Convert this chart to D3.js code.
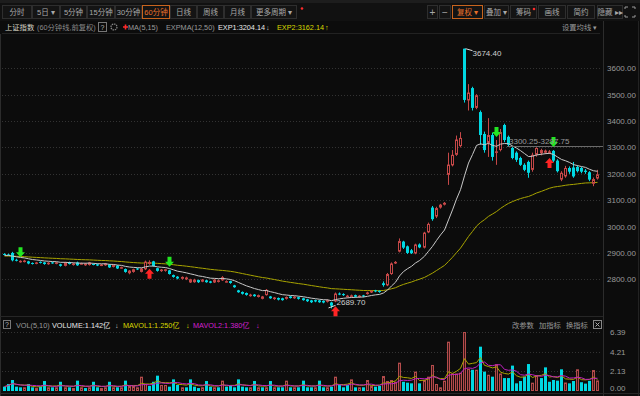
<!DOCTYPE html>
<html>
<head>
<meta charset="utf-8">
<script src="https://cdn.jsdelivr.net/npm/d3@7/dist/d3.min.js"></script>
<style>
html, body { margin: 0; padding: 0; background: #0c0c0c; }
svg { display: block; font-family: "Liberation Sans", "Noto Sans CJK SC", sans-serif; }
</style>
</head>
<body>
<script>
// 60-minute bars, SSE index
var opens = [2896,2894,2900,2874,2866,2866,2868,2862,2859,2866,
  2864,2857,2864,2859,2857,2851,2865,2854,2864,2858,
  2853,2854,2858,2857,2852,2853,2856,2847,2852,2843,
  2839,2823,2828,2841,2828,2838,2858,2868,2842,2831,
  2832,2834,2816,2810,2802,2800,2788,2789,2797,2791,
  2796,2792,2788,2790,2796,2790,2793,2777,2758,2752,
  2748,2736,2742,2733,2726,2740,2735,2725,2729,2728,
  2726,2735,2728,2732,2728,2724,2720,2721,2720,2718,
  2715,2712,2716,2746,2744,2733,2734,2740,2733,2739,
  2744,2750,2758,2756,2785,2777,2820,2860,2905,2943,
  2925,2910,2898,2932,2920,2978,3072,3038,3072,3083,
  3196,3232,3272,3305,3674.4,3478,3525,3450,3434,3351,
  3317,3347,3280,3290,3385,3340,3298,3280,3260,3234,
  3245,3215,3272,3278,3280,3282,3287,3250,3178,3190,
  3222,3224,3226,3222,3212,3206,3162,3182];
var highs = [2899,2897,2904,2878,2872,2874,2870,2864,2866,2868,
  2866,2865,2866,2866,2859,2866,2867,2862,2867,2863,
  2862,2866,2860,2859,2858,2862,2858,2856,2854,2848,
  2841,2835,2840,2843,2843,2871,2872,2870,2844,2839,
  2840,2836,2818,2812,2811,2810,2802,2802,2799,2801,
  2798,2794,2801,2799,2812,2796,2795,2779,2760,2754,
  2750,2745,2744,2742,2737,2763,2737,2733,2731,2730,
  2735,2737,2736,2734,2730,2726,2722,2723,2722,2720,
  2724,2714,2750,2750,2747,2741,2742,2742,2740,2741,
  2753,2759,2760,2758,2792,2824,2864,2869,2955,2946,
  2928,2915,2935,2936,2980,3015,3078,3075,3086,3093,
  3280,3290,3345,3358,3674.4,3540,3530,3502,3440,3360,
  3411,3355,3328,3370,3390,3345,3302,3285,3265,3240,
  3250,3280,3300.25,3295,3292,3290,3290,3255,3210,3230,
  3228,3245,3232,3226,3218,3210,3186,3215];
var lows = [2892,2890,2868,2868,2863,2864,2857,2856,2857,2860,
  2855,2855,2859,2857,2848,2849,2856,2852,2851,2856,
  2851,2852,2853,2850,2850,2851,2843,2845,2839,2841,
  2825,2819,2825,2835,2826,2835,2855,2848,2829,2828,
  2829,2818,2806,2800,2799,2797,2786,2787,2786,2789,
  2787,2785,2786,2788,2794,2788,2783,2768,2749,2742,
  2738,2734,2734,2731,2724,2738,2726,2722,2720,2719,
  2723,2727,2726,2723,2719,2714,2710,2713,2711,2709,
  2712,2689.7,2713,2740,2737,2731,2732,2731,2730,2732,
  2742,2748,2751,2749,2772,2774,2817,2858,2902,2915,
  2896,2896,2895,2918,2917,2975,3022,3032,3068,3080,
  3158,3228,3268,3300,3470,3440,3440,3445,3310,3280,
  3264,3250,3234,3285,3320,3305,3255,3245,3230,3210,
  3185,3208,3265,3270,3275,3275,3245,3205,3172,3185,
  3200,3185,3205,3202,3200,3172,3153,3178];
var closes = [2893,2892,2872,2871,2870,2871,2860,2859,2864,2862,
  2858,2863,2861,2864,2851,2864,2858,2860,2853,2861,
  2860,2864,2855,2852,2856,2860,2845,2854,2841,2846,
  2828,2833,2838,2838,2841,2867,2866,2850,2832,2837,
  2838,2820,2809,2803,2809,2807,2800,2799,2789,2799,
  2789,2787,2799,2796,2808,2793,2786,2770,2751,2745,
  2741,2742,2736,2740,2735,2760,2728,2731,2723,2721,
  2733,2729,2734,2726,2721,2717,2713,2716,2713,2712,
  2721,2700,2746,2742,2740,2738,2739,2734,2738,2735,
  2750,2756,2754,2752,2778,2820,2860,2866,2945,2920,
  2900,2899,2932,2921,2977,3010,3028,3070,3083,3090,
  3235,3272,3330,3336,3480,3508,3450,3498,3347,3290,
  3347,3264,3285,3358,3328,3310,3260,3253,3234,3215,
  3204,3272,3298,3290,3288,3285,3250,3210,3204,3222,
  3208,3190,3210,3208,3207,3178,3180,3198];
// volume, 亿
var volumes = [0.47,0.76,1.19,0.47,0.40,0.40,0.76,0.40,0.32,0.47,
  1.08,0.40,0.40,0.40,1.00,0.40,0.40,0.32,1.12,0.40,
  0.32,0.40,1.00,0.40,0.32,0.40,1.00,0.40,0.40,0.40,
  1.12,0.54,0.54,0.40,1.55,0.76,0.54,1.00,1.66,0.65,
  0.65,0.47,1.26,0.65,0.40,0.40,1.26,0.47,0.32,0.40,
  1.08,0.47,0.40,0.40,1.12,0.47,0.65,0.40,1.26,0.47,
  0.40,0.40,1.08,0.40,0.40,0.40,1.08,0.40,0.40,0.40,
  1.12,0.40,0.40,0.40,1.12,0.40,0.40,0.40,1.12,0.40,
  0.40,0.47,1.55,0.65,0.40,0.65,1.26,0.40,0.40,0.40,
  1.19,0.54,0.47,0.54,1.62,1.08,1.19,1.00,3.07,1.00,
  0.90,0.83,2.10,0.83,1.19,1.55,2.82,0.76,0.40,1.12,
  5.34,1.90,1.90,1.98,6.39,2.40,2.30,2.30,4.80,2.10,
  1.76,1.55,2.90,1.90,1.40,1.40,2.75,0.83,1.08,1.55,
  2.92,0.90,1.73,1.40,2.56,1.00,1.19,1.12,2.35,0.92,
  0.83,1.08,2.35,0.95,0.80,1.10,2.27,1.142];

// EXPMA starting levels read at the left edge
var expSeeds = [2890, 2888];
// signal arrows (bar index)
var sellSignals = [4, 41, 122, 136];
var buySignals = [36, 82, 135];

var priceTicks = [2800, 2900, 3000, 3100, 3200, 3300, 3400, 3500, 3600];
var volTicks = [0, 2.13, 4.21, 6.39];

var leftTabs = ['分时', '5日 ▾', '5分钟', '15分钟', '30分钟', '60分钟', '日线', '周线', '月线', '更多周期 ▾'];
var rightTools = ['+', '−', '复权 ▾', '叠加 ▾', '筹码', '画线', '简约', '隐藏 ▸▸'];

var width = 640,
  height = 396;
var bg = '#0c0c0c',
  red = '#c54848',
  cyan = '#00d8e2',
  grid = '#333',
  fs = 7.3;

var svg = d3.select('body')
  .append('svg')
  .attr('width', width)
  .attr('height', height);

svg.append('rect').attr('width', width).attr('height', height).attr('fill', bg);

// ---- toolbar
svg.append('rect').attr('x', 0).attr('y', 0).attr('width', width).attr('height', 3).attr('fill', '#1d1d1d');
svg.append('rect').attr('x', 0).attr('y', 3).attr('width', width).attr('height', 18).attr('fill', '#111');

var leftW = [30, 28, 27, 28, 27, 28, 27, 27, 27, 46];
var tabX = 2;
leftTabs.forEach(function(t, k) {
  var active = k === 5;
  svg.append('rect')
    .attr('x', tabX + 0.5).attr('y', 5.5)
    .attr('width', leftW[k] - 1).attr('height', 13)
    .attr('fill', '#141414')
    .attr('stroke', active ? '#c8641e' : '#2e2e2e');
  svg.append('text')
    .attr('x', tabX + leftW[k] / 2).attr('y', 14.8)
    .attr('text-anchor', 'middle')
    .attr('font-size', 7.5)
    .attr('fill', active ? '#e8702a' : '#a8a8a8')
    .text(t);
  tabX += leftW[k];
});
svg.append('circle').attr('cx', 302).attr('cy', 8.5).attr('r', 1.3).attr('fill', '#ff2a2a');

var toolX = [427, 439, 452, 484, 510, 538, 567, 597];
var toolW = [11, 12, 31, 25, 27, 28, 28, 26];
rightTools.forEach(function(t, k) {
  var active = k === 2;
  svg.append('rect')
    .attr('x', toolX[k] + 0.5).attr('y', 5.5)
    .attr('width', toolW[k] - 1).attr('height', 13)
    .attr('fill', '#141414')
    .attr('stroke', active ? '#c8641e' : '#2e2e2e');
  svg.append('text')
    .attr('x', toolX[k] + toolW[k] / 2).attr('y', k < 2 ? 15.5 : 14.8)
    .attr('text-anchor', 'middle')
    .attr('font-size', k < 2 ? 10 : 7.5)
    .attr('fill', active ? '#e8702a' : '#a8a8a8')
    .text(t);
});
svg.append('circle').attr('cx', 534).attr('cy', 9).attr('r', 1.3).attr('fill', '#ff2a2a');
// full screen icon
svg.append('path')
  .attr('d', 'M625,9V7h3M632,7h3v2M635,15v2h-3M628,17h-3v-2')
  .attr('fill', 'none').attr('stroke', '#999');

// ---- title row
svg.append('line').attr('x1', 2).attr('x2', 600).attr('y1', 33.5).attr('y2', 33.5).attr('stroke', '#222');
function label(xp, yp, t, color, size) {
  return svg.append('text').attr('x', xp).attr('y', yp)
    .attr('font-size', size || fs).attr('fill', color).text(t);
}
label(5, 29.5, '上证指数', '#d6d6c4');
label(37, 29.5, '(60分钟线,前复权)', '#8a8a8a');
svg.append('rect').attr('x', 98.5).attr('y', 22.5).attr('width', 8).attr('height', 9).attr('fill', 'none').attr('stroke', '#777');
label(100.5, 29.5, '?', '#bbb', 7);
svg.append('circle').attr('cx', 114).attr('cy', 27).attr('r', 3).attr('fill', 'none').attr('stroke', '#888').attr('stroke-width', 1.2).attr('stroke-dasharray', '1.5,0.8');
svg.append('path').attr('d', 'M123,27h5M125.5,24.5v5').attr('stroke', '#ff2a2a').attr('stroke-width', 1.6);
label(128, 29.5, 'MA(5,15)', '#9a9a9a');
label(166, 29.5, 'EXPMA(12,50)', '#9a9a9a');
label(218, 29.5, 'EXP1:3204.14', '#e8e8e8');
label(266, 29.5, '↓', '#bbb');
label(277, 29.5, 'EXP2:3162.14', '#d8d800');
label(325, 29.5, '↑', '#d8d800');
label(562, 29.5, '设置均线 ▾', '#999');

// ---- scales
var n = closes.length;
var x = d3.scaleBand().domain(d3.range(n)).range([2, 600]).padding(0.25);
function cx(i) { return Math.floor(x(i) + x.bandwidth() / 2) + 0.5; }
var y = d3.scaleLinear().domain([2800, 3600]).range([279.3, 68.3]);
var yv = d3.scaleLinear().domain([0, 6.39]).range([391, 332]);

// ---- gridlines
svg.append('g').selectAll('line')
  .data(priceTicks)
  .enter()
  .append('line')
  .attr('x1', 2).attr('x2', 602)
  .attr('y1', function(d) { return Math.round(y(d)) + 0.5; })
  .attr('y2', function(d) { return Math.round(y(d)) + 0.5; })
  .attr('stroke', grid)
  .attr('stroke-dasharray', '1,2');

svg.append('g').selectAll('line')
  .data(volTicks.slice(1))
  .enter()
  .append('line')
  .attr('x1', 2).attr('x2', 602)
  .attr('y1', function(d) { return Math.round(yv(d)) + 0.5; })
  .attr('y2', function(d) { return Math.round(yv(d)) + 0.5; })
  .attr('stroke', grid)
  .attr('stroke-dasharray', '1,2');

// frame lines
svg.append('line').attr('x1', 603.5).attr('x2', 603.5).attr('y1', 21).attr('y2', 396).attr('stroke', '#2c2c2c');
svg.append('line').attr('x1', 0.5).attr('x2', 0.5).attr('y1', 34).attr('y2', 396).attr('stroke', '#2c2c2c');
svg.append('line').attr('x1', 0).attr('x2', 603).attr('y1', 316.5).attr('y2', 316.5).attr('stroke', '#262626');
svg.append('line').attr('x1', 0).attr('x2', 640).attr('y1', 393.5).attr('y2', 393.5).attr('stroke', '#262626');
svg.append('line').attr('x1', 638.5).attr('x2', 638.5).attr('y1', 21).attr('y2', 396).attr('stroke', '#222');

// ---- axes
var pAxis = svg.append('g')
  .attr('transform', 'translate(604,0)')
  .call(d3.axisRight(y).tickValues(priceTicks).tickFormat(d3.format('.2f')).tickSize(0).tickPadding(3));
pAxis.select('.domain').remove();
pAxis.selectAll('text').attr('fill', '#9a9a9a').attr('font-size', 8).attr('font-family', '"Liberation Sans", sans-serif');

var vAxis = svg.append('g')
  .attr('transform', 'translate(607,0)')
  .call(d3.axisRight(yv).tickValues(volTicks).tickFormat(d3.format('.2f')).tickSize(0).tickPadding(3));
vAxis.select('.domain').remove();
vAxis.selectAll('text').attr('fill', '#9a9a9a').attr('font-size', 8).attr('font-family', '"Liberation Sans", sans-serif');
vAxis.selectAll('.tick').filter(function(d) { return d === 0; }).attr('transform', 'translate(0,388)');

// ---- EXPMA lines
function ema(values, period, seed) {
  var a = 2 / (period + 1), prev = seed;
  return values.map(function(v) { prev = a * v + (1 - a) * prev; return prev; });
}
var exp1 = ema(closes, 12, expSeeds[0]);
var exp2 = ema(closes, 50, expSeeds[1]);

var plot = svg.append('g');

var priceLine = d3.line()
  .x(function(d, i) { return cx(i); })
  .y(function(d) { return y(d); });

plot.append('path').datum(exp2).attr('d', priceLine).attr('fill', 'none').attr('stroke', '#a8a400').attr('stroke-width', 1);

// ---- candles
var candles = plot.selectAll('g.candle')
  .data(d3.range(n))
  .enter()
  .append('g')
  .attr('class', 'candle');

candles.append('line')
  .attr('x1', cx).attr('x2', cx)
  .attr('y1', function(i) { return y(highs[i]); })
  .attr('y2', function(i) { return y(lows[i]); })
  .attr('stroke', function(i) { return closes[i] >= opens[i] ? red : cyan; });

candles.append('rect')
  .attr('x', function(i) { return closes[i] >= opens[i] ? cx(i) - 1 : cx(i) - 1.5; })
  .attr('width', function(i) { return closes[i] >= opens[i] ? 2 : 3; })
  .attr('y', function(i) {
    var t = y(Math.max(opens[i], closes[i]));
    return closes[i] >= opens[i] ? t + 0.5 : t;
  })
  .attr('height', function(i) {
    var h = Math.abs(y(opens[i]) - y(closes[i]));
    return closes[i] >= opens[i] ? Math.max(h - 1, 0.5) : Math.max(h, 1);
  })
  .attr('fill', function(i) { return closes[i] >= opens[i] ? bg : cyan; })
  .attr('stroke', function(i) { return closes[i] >= opens[i] ? red : 'none'; });

plot.append('path').datum(exp1).attr('d', priceLine).attr('fill', 'none').attr('stroke', '#c8c8c8').attr('stroke-width', 1);

// ---- high / low marks
var hi = d3.maxIndex(highs), lo = d3.minIndex(lows);
plot.append('line')
  .attr('x1', cx(hi) + 1).attr('y1', y(highs[hi]))
  .attr('x2', cx(hi) + 8).attr('y2', y(highs[hi]) + 2)
  .attr('stroke', '#ddd');
label(cx(hi) + 8, y(highs[hi]) + 7, d3.format('.2f')(highs[hi]), '#d0d0d0', 8);
plot.append('line')
  .attr('x1', cx(lo) - 3).attr('y1', y(lows[lo]) - 0.5)
  .attr('x2', cx(lo) + 4).attr('y2', y(lows[lo]) - 3)
  .attr('stroke', '#ddd');
label(cx(lo) + 5, y(lows[lo]) - 3, d3.format('.2f')(lows[lo]), '#d0d0d0', 8);

// drawn level
plot.append('line').attr('x1', 507).attr('x2', 603).attr('y1', 146.5).attr('y2', 146.5).attr('stroke', '#6a6a6a');
label(509, 143.5, '3300.25-3297.75', '#9a9a9a', 8);

// ---- signal arrows
function arrowDown(xc, yb) {
  return 'M' + (xc - 2) + ',' + (yb - 10) + 'h4v5h2.5l-4.5,5l-4.5,-5h2.5z';
}
function arrowUp(xc, yt) {
  return 'M' + (xc - 2) + ',' + (yt + 10) + 'h4v-5h2.5l-4.5,-5l-4.5,5h2.5z';
}
plot.selectAll('path.sell')
  .data(sellSignals)
  .enter()
  .append('path')
  .attr('class', 'sell')
  .attr('d', function(i) { return arrowDown(cx(i), y(highs[i]) - 3); })
  .attr('fill', '#22e622');
plot.selectAll('path.buy')
  .data(buySignals)
  .enter()
  .append('path')
  .attr('class', 'buy')
  .attr('d', function(i) { return arrowUp(cx(i), y(lows[i]) + 4); })
  .attr('fill', '#ff2424');

// ---- volume panel
svg.append('rect').attr('x', 3.5).attr('y', 320.5).attr('width', 7).attr('height', 8).attr('fill', 'none').attr('stroke', '#777');
label(5, 327.3, '?', '#bbb', 7);
label(16, 327.5, 'VOL(5,10)', '#9a9a9a');
label(52, 327.5, 'VOLUME:1.142亿', '#e8e8e8');
label(115, 327.5, '↓', '#bbb');
label(123, 327.5, 'MAVOL1:1.250亿', '#d8d800');
label(186, 327.5, '↓', '#d8d800');
label(193, 327.5, 'MAVOL2:1.380亿', '#d020d0');
label(256, 327.5, '↓', '#d020d0');
label(512, 327.5, '改参数', '#999');
label(539, 327.5, '加指标', '#999');
label(566, 327.5, '换指标', '#999');
svg.append('rect').attr('x', 593.5).attr('y', 320.5).attr('width', 8).attr('height', 8).attr('fill', 'none').attr('stroke', '#888');
svg.append('path').attr('d', 'M595.5,322.5l4,4M599.5,322.5l-4,4').attr('stroke', '#aaa');

function volUp(i) { return i === 0 ? closes[i] >= opens[i] : closes[i] >= closes[i - 1]; }

svg.append('g').selectAll('rect')
  .data(d3.range(n))
  .enter()
  .append('rect')
  .attr('x', function(i) { return volUp(i) ? cx(i) - 1 : cx(i) - 1.5; })
  .attr('width', function(i) { return volUp(i) ? 2 : 3; })
  .attr('y', function(i) { return volUp(i) ? yv(volumes[i]) + 0.5 : yv(volumes[i]); })
  .attr('height', function(i) { return volUp(i) ? Math.max(391 - yv(volumes[i]) - 1, 0.5) : 391 - yv(volumes[i]); })
  .attr('fill', function(i) { return volUp(i) ? '#3a1616' : cyan; })
  .attr('stroke', function(i) { return volUp(i) ? '#b44c4c' : 'none'; });

function movAvg(values, period) {
  return values.map(function(v, i) {
    return d3.mean(values.slice(Math.max(0, i - period + 1), i + 1));
  });
}
var volLine = d3.line()
  .x(function(d, i) { return cx(i); })
  .y(function(d) { return yv(d); });
svg.append('path').datum(movAvg(volumes, 5)).attr('d', volLine).attr('fill', 'none').attr('stroke', '#a8a400');
svg.append('path').datum(movAvg(volumes, 10)).attr('d', volLine).attr('fill', 'none').attr('stroke', '#c020c0');
</script>
</body>
</html>
